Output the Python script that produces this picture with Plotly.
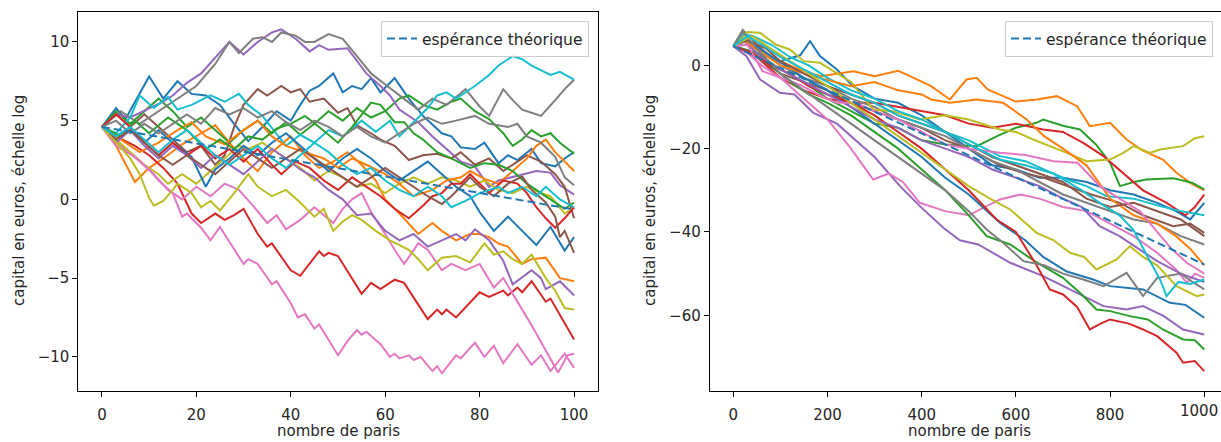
import plotly.graph_objects as go

# ---------------- DATA ----------------
# Left panel: 100 bets, (bet number, log capital) key points of each walk
g_bleu_1 = [(0,4.6),(3,5.8),(5,5.1),(10,7.8),(13,6.4),(16,7.5),(19,6.7),(22,6.6),(25,6.0),(28,4.8),(31,3.7),(34,4.6),(37,5.6),(40,5.0),(42,6.0),(44,6.9),(46,7.2),(49,8.0),(51,6.8),(53,7.2),(55,7.0),(57,7.7),(59,6.8),(62,7.7),(65,6.4),(68,5.3),(72,4.2),(74,4.0),(76,3.3),(79,3.2),(81,3.6),(84,2.3),(86,2.8),(88,2.5),(91,3.2),(93,2.3),(96,2.1),(98,2.6),(100,3.0)]
g_orange_1 = [(0,4.6),(3,3.4),(7,1.1),(10,2.0),(13,2.6),(17,3.5),(21,4.2),(24,4.7),(27,3.6),(30,2.6),(33,1.8),(36,3.0),(40,4.0),(43,2.8),(46,2.0),(49,2.4),(52,3.0),(55,2.2),(58,1.2),(60,0.0),(63,-0.9),(67,-2.2),(70,-1.5),(72,-2.0),(75,-2.6),(78,-2.2),(80,-2.2),(82,-2.4),(84,-2.8),(86,-3.0),(89,-4.1),(91,-3.8),(94,-3.7),(97,-5.0),(100,-5.2)]
g_vert_1 = [(0,4.6),(3,5.6),(6,4.8),(9,5.6),(12,6.4),(15,5.6),(18,4.6),(21,5.2),(24,4.4),(27,3.6),(30,4.4),(33,5.0),(36,4.2),(39,4.9),(42,4.1),(45,4.8),(48,5.6),(51,5.0),(54,5.8),(57,5.2),(60,5.6),(63,6.4),(65,6.6),(68,6.0),(71,5.7),(74,6.2),(76,6.4),(79,5.6),(82,5.1),(85,4.2),(87,3.4),(89,3.8),(91,4.4),(93,4.0),(95,4.2),(97,3.6),(100,2.9)]
g_rouge_1 = [(0,4.6),(3,4.0),(7,3.4),(10,2.8),(13,2.0),(16,1.0),(19,-0.9),(21,-1.5),(24,-0.9),(26,-1.3),(28,-1.0),(30,-0.6),(33,-2.2),(35,-3.0),(36,-2.8),(40,-4.5),(42,-4.85),(46,-3.3),(47,-3.6),(48,-3.4),(50,-3.6),(55,-6.0),(57,-5.3),(59,-5.7),(62,-5.1),(64,-5.3),(69,-7.6),(71,-7.0),(72,-7.3),(73,-7.0),(75,-7.5),(80,-5.9),(82,-6.2),(85,-5.8),(86,-6.1),(88,-5.6),(89,-5.9),(91,-5.2),(94,-6.5),(95,-6.3),(100,-8.9)]
g_violet_1 = [(0,4.6),(3,5.4),(6,5.2),(10,5.8),(13,6.2),(15,6.6),(18,7.4),(21,8.0),(24,9.0),(27,10.0),(30,9.2),(33,10.0),(36,10.6),(38,10.8),(41,10.2),(44,9.4),(46,9.8),(48,9.5),(52,9.6),(56,8.0),(59,7.2),(61,6.6),(63,5.7),(67,4.9),(70,4.0),(73,3.2),(76,2.4),(79,2.1),(82,0.8),(84,1.2),(88,1.5),(92,1.8),(95,1.7),(97,0.9),(100,0.3)]
g_brun_1 = [(0,4.6),(3,5.4),(6,4.6),(9,5.4),(12,4.6),(15,3.8),(18,3.0),(21,3.4),(24,2.2),(26,2.8),(28,4.6),(30,6.0),(33,7.0),(35,6.6),(38,7.2),(40,6.8),(42,7.0),(44,6.2),(47,6.4),(50,5.5),(52,5.8),(54,4.7),(57,4.2),(59,3.8),(62,3.4),(65,2.5),(68,2.8),(71,2.9),(74,2.6),(76,3.0),(79,2.2),(82,2.6),(85,1.8),(88,2.4),(90,2.8),(93,2.4),(96,1.6),(98,0.8),(100,-1.2)]
g_rose_1 = [(0,4.6),(4,3.4),(8,2.4),(11,1.6),(14,0.6),(17,0.0),(20,0.8),(23,0.2),(26,1.0),(29,0.6),(32,-0.4),(35,-1.5),(37,-1.0),(39,-1.9),(42,-1.3),(45,-0.5),(47,-1.0),(49,-1.5),(51,-0.6),(53,0.0),(55,0.4),(57,-0.8),(60,-2.2),(62,-3.2),(64,-4.1),(67,-2.8),(69,-3.2),(72,-4.5),(74,-4.1),(77,-4.5),(80,-4.1),(83,-5.6),(85,-5.0),(88,-6.5),(91,-8.0),(94,-9.6),(96.6,-11.0),(98.6,-9.9),(100,-9.8)]
g_gris_1 = [(0,4.6),(4,5.6),(8,4.8),(12,5.6),(16,6.4),(20,7.2),(24,8.6),(27,10.0),(29,9.3),(32,10.2),(34,10.3),(36,10.0),(38,10.6),(41,10.4),(43,10.0),(45,10.0),(48,10.5),(51,10.2),(54,9.1),(57,8.0),(60,7.3),(63,6.6),(67,5.7),(70,6.4),(73,6.0),(77,7.0),(80,5.9),(82,5.3),(85,7.0),(87,6.3),(89,5.7),(91,5.5),(93,5.3),(96,6.3),(98,7.0),(100,7.6)]
g_olive_1 = [(0,4.6),(3,3.8),(6,3.0),(9,2.2),(12,1.6),(14,1.0),(17,1.6),(20,1.0),(23,1.8),(26,2.6),(29,3.4),(31,3.2),(34,3.6),(36,3.2),(39,2.6),(42,2.0),(45,1.2),(48,1.8),(51,1.4),(54,0.8),(57,1.0),(60,0.4),(63,1.0),(66,1.4),(69,1.0),(72,1.4),(75,1.2),(78,0.8),(81,1.2),(84,0.6),(87,0.4),(90,0.8),(93,0.4),(95,0.2),(98,-0.9),(100,-0.5)]
g_cyan_1 = [(0,4.6),(3,4.2),(6,5.2),(8,6.6),(11,5.8),(14,6.5),(16,5.7),(19,6.0),(23,6.6),(26,6.2),(29,6.7),(31,6.0),(34,5.3),(37,4.2),(39,3.4),(42,4.1),(45,3.6),(48,4.4),(51,4.0),(55,5.0),(58,4.3),(61,5.0),(63,4.0),(66,4.9),(69,5.8),(71,6.6),(73,6.8),(75,6.4),(79,7.2),(82,7.9),(84,8.5),(87,9.1),(89,8.9),(91,8.5),(93,8.2),(95,7.9),(97,8.1),(100,7.6)]
g_bleu_2 = [(0,4.6),(3,4.0),(6,4.6),(9,3.6),(12,4.4),(15,3.6),(19,2.7),(22,0.8),(24,1.9),(27,2.6),(30,3.4),(33,2.8),(36,3.6),(39,4.2),(42,3.4),(45,2.6),(48,1.8),(51,2.6),(54,3.2),(57,2.6),(60,1.8),(63,1.2),(66,1.8),(69,2.4),(72,1.6),(75,0.8),(78,0.2),(80,-0.8),(83,-2.0),(86,-1.1),(89,-2.0),(92,-2.9),(95,-1.75),(98,-3.25),(100,-2.4)]
g_orange_2 = [(0,4.6),(4,3.8),(8,3.0),(12,3.6),(16,4.4),(19,4.9),(22,4.0),(26,3.5),(30,4.4),(33,5.0),(36,4.0),(39,3.4),(43,3.0),(47,2.6),(50,2.0),(53,2.6),(56,2.2),(60,1.6),(63,1.0),(66,0.2),(70,0.6),(73,1.2),(76,1.4),(78,1.8),(81,1.3),(84,1.0),(87,1.8),(90,2.6),(92,3.4),(94,3.8),(96,3.0),(98,2.4),(100,1.8)]
g_vert_2 = [(0,4.6),(4,4.0),(7,5.0),(10,4.2),(14,5.2),(18,4.4),(22,3.2),(25,3.8),(28,3.2),(31,4.0),(34,3.8),(37,4.5),(40,4.8),(43,5.3),(46,4.6),(50,3.6),(53,4.6),(57,6.15),(59,6.0),(62,4.9),(64,4.9),(66,4.2),(68,3.8),(71,3.0),(74,2.6),(78,2.0),(81,2.3),(84,2.2),(87,1.8),(90,1.0),(93,0.4),(96,-0.2),(98,-0.6),(100,-0.2)]
g_rouge_2 = [(0,4.6),(3,5.4),(6,4.6),(9,3.6),(12,2.8),(15,3.6),(18,2.8),(21,3.4),(24,2.6),(27,3.2),(30,2.4),(33,3.2),(36,2.2),(38,1.6),(41,2.4),(44,2.0),(47,1.2),(50,0.6),(53,1.4),(56,0.8),(59,0.2),(62,-0.6),(65,-1.2),(68,-0.4),(70,0.2),(72,0.4),(74,1.0),(76,1.0),(78,1.6),(80,1.0),(82,0.4),(85,1.2),(88,1.0),(90,0.4),(92,-0.5),(94,-1.2),(96,-1.8),(98,-1.2),(100,-0.5)]
g_violet_2 = [(0,4.6),(3,3.6),(6,4.4),(9,3.4),(12,2.6),(15,3.4),(18,2.8),(21,2.0),(24,2.8),(27,2.2),(30,1.6),(33,2.4),(36,3.2),(39,2.6),(42,1.9),(45,1.4),(48,0.6),(51,0.0),(54,-1.0),(57,-0.9),(60,-2.0),(63,-2.6),(66,-2.2),(69,-3.0),(72,-2.6),(75,-2.2),(77,-2.6),(79,-1.9),(82,-2.6),(85,-3.9),(87,-5.4),(91,-4.5),(93,-5.0),(94,-5.7),(97,-5.2),(100,-6.1)]
g_brun_2 = [(0,4.6),(3,3.8),(6,4.4),(9,3.6),(12,2.8),(15,2.2),(18,2.8),(21,2.2),(24,1.6),(27,2.4),(30,3.2),(33,2.6),(36,2.0),(39,2.6),(42,3.2),(45,2.6),(48,2.0),(51,1.4),(54,0.8),(57,1.4),(60,2.0),(63,1.4),(66,0.8),(69,0.2),(72,-0.3),(74,0.2),(76,0.8),(78,1.4),(80,0.8),(83,0.2),(86,1.0),(89,1.45),(91,0.6),(94,-0.2),(96,-1.1),(97,-2.4),(98,-2.0),(100,-3.4)]
g_rose_2 = [(0,4.6),(3,3.4),(7,2.7),(10,1.9),(12,1.2),(15,0.4),(17,-1.1),(18,-0.9),(21,-1.8),(23,-2.6),(25,-1.75),(28,-3.2),(30,-4.1),(31,-3.8),(33,-4.1),(36,-5.4),(37,-5.2),(40,-6.6),(41.5,-7.5),(43,-7.3),(45,-8.2),(46,-7.95),(48.5,-9.2),(50,-9.9),(52,-9.0),(54,-8.3),(55,-8.6),(56,-8.4),(59,-9.2),(61,-10.0),(62,-9.8),(63,-10.1),(65,-9.9),(66,-10.2),(67.5,-10.0),(70,-10.9),(71,-10.6),(72,-11.05),(75,-9.9),(76,-10.1),(79,-9.1),(81,-10.0),(83,-9.3),(85,-10.4),(88,-9.2),(91,-10.5),(93,-9.9),(95,-10.9),(98,-9.8),(100,-10.7)]
g_gris_2 = [(0,4.6),(3,5.0),(6,4.2),(9,4.8),(12,4.2),(15,4.8),(18,5.4),(21,4.8),(24,5.8),(27,5.4),(30,5.8),(33,5.2),(36,5.6),(39,4.9),(42,4.4),(45,5.0),(48,4.6),(51,4.0),(54,4.6),(57,4.0),(60,3.6),(63,4.2),(66,4.8),(69,5.2),(72,4.8),(75,5.0),(79,5.3),(82,4.8),(86,4.6),(88,4.8),(90,4.0),(93,3.6),(96,2.7),(98,1.4),(100,0.9)]
g_olive_2 = [(0,4.6),(3,3.6),(6,2.6),(8,1.6),(10,0.1),(11,-0.4),(13,-0.1),(15,0.6),(16,1.0),(19,0.4),(21,-0.5),(23,-0.1),(25,-0.7),(28,0.4),(31,1.6),(33,0.8),(36,0.2),(39,0.6),(42,-0.2),(45,-1.1),(47,-0.6),(49,-2.0),(51,-1.4),(53,-1.0),(55,-1.3),(58,-2.0),(61,-2.6),(63,-2.9),(65,-3.2),(67,-3.8),(69,-4.5),(72,-3.7),(75,-3.6),(78,-4.0),(81,-2.8),(83,-3.5),(85,-3.3),(87,-3.8),(89,-4.1),(91,-3.5),(94,-5.0),(96,-5.8),(98,-6.9),(100,-7.0)]
g_cyan_2 = [(0,4.6),(3,4.0),(6,4.6),(9,3.8),(12,3.0),(15,3.8),(18,4.4),(21,3.6),(24,2.8),(27,2.2),(30,2.8),(33,3.4),(36,2.6),(39,2.0),(42,2.8),(45,3.6),(48,3.0),(51,2.2),(54,1.6),(57,2.0),(60,1.2),(63,0.6),(66,0.2),(69,0.8),(72,0.2),(74,-0.5),(77,-0.1),(80,0.4),(84,0.8),(86,0.4),(89,0.8),(92,0.2),(94,0.8),(97,0.0),(100,-0.5)]
g_esperance = [(0,4.605),(100,-0.64)]

# Right panel: 1000 bets
d_bleu_1 = [(0,4.6),(50,3),(100,1),(142,2.4),(163,5.8),(184,2.2),(220,-1),(254,-5),(300,-8),(350,-9),(400,-12),(450,-16),(500,-20),(550,-24),(600,-25),(650,-27),(700,-27),(750,-28),(800,-30),(850,-31),(900,-33),(940,-35),(970,-37),(1000,-33)]
d_orange_1 = [(0,4.6),(15,7),(50,4),(100,1),(140,-1),(185,-2.6),(220,-2),(255,-1.4),(300,-2.6),(350,-1.3),(375,-2.6),(400,-4),(420,-5),(460,-8.2),(495,-3.4),(517,-3.0),(540,-5.8),(573,-7.4),(600,-8.7),(645,-8.2),(687,-7.4),(730,-9.8),(757,-14.6),(800,-13.8),(835,-17.8),(870,-20.5),(912,-22.6),(941,-25.8),(970,-28.2),(1000,-30)]
d_vert_1 = [(0,4.6),(50,3),(100,-1),(150,-4),(200,-8),(250,-11),(300,-14),(350,-15),(400,-18),(450,-19),(517,-19.4),(560,-17),(600,-15),(644,-13.8),(658,-13),(700,-14.5),(736,-15.4),(770,-19),(800,-23.4),(821,-29),(850,-28),(877,-27.4),(934,-27.1),(974,-28.2),(1000,-29.8)]
d_rouge_1 = [(0,4.6),(50,2),(100,-3),(150,-6),(200,-8),(250,-9),(300,-9),(350,-10),(400,-11),(450,-12),(500,-14),(550,-15),(600,-14),(658,-15.4),(700,-16),(743,-18.6),(786,-21.8),(830,-26),(870,-30),(920,-33),(960,-36),(980,-34),(1000,-31)]
d_violet_1 = [(0,4.6),(28,2.2),(57,-3.4),(99,-6.6),(130,-7),(170,-11.4),(220,-14),(260,-18),(300,-22),(354,-29),(396,-33.8),(446,-39),(481,-42),(520,-43),(588,-47.4),(658,-50.6),(700,-53),(743,-55.4),(786,-57.8),(835,-58.6),(870,-57.8),(914,-60.2),(955,-63.4),(1000,-64.6)]
d_brun_1 = [(0,4.6),(50,2),(100,-2),(150,-4),(200,-6),(250,-9),(300,-11),(350,-13),(400,-15),(450,-18),(500,-20),(566,-24),(620,-26),(660,-27),(708,-29),(760,-31),(821,-33),(870,-36),(934,-38.6),(970,-38),(1000,-40.2)]
d_rose_1 = [(0,4.6),(30,3),(60,0),(100,-3),(150,-8),(200,-13),(250,-20),(297,-27.4),(330,-26),(360,-28),(396,-33),(450,-35),(500,-36),(566,-32.2),(610,-31),(650,-32),(700,-34),(750,-35),(800,-38),(850,-41),(900,-45),(940,-49),(963,-52.2),(980,-50),(1000,-51)]
d_gris_1 = [(0,4.6),(20,8.5),(50,5),(100,0),(150,-3),(200,-5),(250,-8),(300,-10),(350,-13),(400,-15),(450,-17),(500,-20),(550,-23),(600,-25),(650,-28),(700,-31),(750,-33),(800,-35),(850,-37),(900,-38),(950,-41),(1000,-43)]
d_olive_1 = [(0,4.6),(30,8),(57,7.8),(90,5),(120,3.8),(150,1),(184,0.6),(220,-2),(250,-4),(297,-10.6),(340,-11),(396,-13),(450,-12),(500,-13),(566,-15.4),(600,-16),(637,-17.8),(708,-21),(750,-23),(800,-22.6),(828,-21),(850,-19.4),(885,-21),(906,-20.2),(955,-19.4),(980,-17.5),(1000,-17)]
d_cyan_1 = [(0,4.6),(20,7.5),(42,7),(80,5),(120,2),(160,0),(200,-3),(250,-6),(300,-8),(350,-11),(400,-13),(450,-16),(500,-18),(566,-21.8),(620,-23),(660,-25),(708,-27.4),(750,-29),(792,-31.4),(850,-32),(906,-33.8),(950,-35),(1000,-36)]
d_bleu_2 = [(0,4.6),(30,6),(70,3),(110,0),(150,-3),(200,-6),(250,-10),(300,-14),(350,-18),(400,-22),(450,-27),(500,-31),(566,-37.8),(620,-42),(658,-46),(708,-49.5),(764,-51.4),(800,-53),(870,-53.8),(927,-57),(960,-57.5),(1000,-60.6)]
d_orange_2 = [(0,4.6),(20,6),(60,3),(100,0),(150,-2),(200,-3.5),(250,-5),(300,-4),(350,-6),(400,-7),(420,-8.2),(460,-9),(517,-8.2),(573,-9),(623,-13),(660,-17),(700,-20),(750,-24),(800,-32),(850,-36),(900,-38),(940,-41),(970,-44),(1000,-48)]
d_vert_2 = [(0,4.6),(40,3),(80,0),(120,-4),(160,-7),(200,-9),(250,-12),(300,-16),(350,-20),(400,-25),(450,-30),(500,-36),(538,-41),(588,-43),(640,-47),(700,-51),(740,-55),(771,-58.6),(800,-59),(842,-60.2),(880,-61),(912,-63.4),(955,-65.8),(980,-66),(1000,-68.2)]
d_rouge_2 = [(0,4.6),(40,3),(80,0),(120,-2),(160,-5),(200,-7),(250,-9),(300,-12),(350,-16),(400,-20),(450,-25),(500,-30),(559,-37),(600,-40),(644,-48),(672,-53.8),(700,-55),(730,-58),(757,-63.4),(780,-62),(800,-61),(840,-62),(870,-63.4),(900,-65),(941,-69),(955,-71.4),(980,-71),(1000,-73.4)]
d_violet_2 = [(0,4.6),(30,5),(60,2),(100,-1),(150,-4),(200,-7),(250,-10),(300,-13),(350,-15),(400,-18),(450,-20),(500,-22),(550,-25),(600,-27),(650,-29),(700,-32),(740,-34),(778,-38.6),(820,-41),(860,-44),(900,-47),(950,-50),(1000,-52)]
d_brun_2 = [(0,4.6),(30,6),(70,4),(100,1),(150,-2),(200,-5),(250,-7),(300,-9),(350,-12),(400,-14),(450,-16),(500,-19),(550,-22),(600,-24),(650,-26),(700,-28),(750,-32),(800,-34),(850,-33),(900,-35),(950,-37),(1000,-41)]
d_rose_2 = [(0,4.6),(30,5),(62,-1.4),(100,-3),(142,-4.7),(180,-7),(220,-9),(260,-9),(300,-11),(350,-13),(400,-16),(450,-19),(500,-20),(566,-21),(620,-21.5),(680,-23),(731,-23.4),(778,-29),(820,-32),(863,-35),(900,-40),(930,-44),(963,-47.4),(1000,-50)]
d_gris_2 = [(0,4.6),(20,8),(50,4),(100,-2),(150,-6),(200,-10),(250,-14),(300,-18),(350,-22),(400,-26),(450,-30),(500,-35),(538,-39.4),(573,-42.6),(616,-47),(660,-48),(700,-50),(743,-51.4),(786,-53),(835,-49.8),(870,-55.4),(900,-51),(950,-50),(975,-52),(1000,-53.8)]
d_olive_2 = [(0,4.6),(40,7),(80,4),(120,1),(160,-2),(200,-5),(250,-9),(300,-13),(350,-17),(400,-21),(450,-25),(500,-29),(545,-32),(588,-34.6),(644,-40.2),(680,-42),(715,-45),(745,-46),(771,-49),(790,-48),(814,-46.6),(842,-43.4),(870,-46),(900,-48),(941,-53),(984,-55.4),(1000,-55)]
d_cyan_2 = [(0,4.6),(30,7),(60,5),(100,2),(150,-1),(200,-4),(250,-7),(300,-9),(350,-12),(400,-14),(450,-16),(500,-19),(566,-22.6),(620,-24),(680,-26),(740,-30),(778,-33),(820,-36),(849,-39.4),(880,-46),(906,-51.4),(920,-55.4),(945,-52),(970,-52.5),(1000,-51.4)]
d_esperance = [(0,4.605),(1000,-47.8)]

series_gauche = [g_bleu_1, g_orange_1, g_vert_1, g_rouge_1, g_violet_1, g_brun_1, g_rose_1, g_gris_1, g_olive_1, g_cyan_1,
                 g_bleu_2, g_orange_2, g_vert_2, g_rouge_2, g_violet_2, g_brun_2, g_rose_2, g_gris_2, g_olive_2, g_cyan_2]
series_droite = [d_bleu_1, d_orange_1, d_vert_1, d_rouge_1, d_violet_1, d_brun_1, d_rose_1, d_gris_1, d_olive_1, d_cyan_1,
                 d_bleu_2, d_orange_2, d_vert_2, d_rouge_2, d_violet_2, d_brun_2, d_rose_2, d_gris_2, d_olive_2, d_cyan_2]

legende = "espérance théorique"
titre_y = "capital en euros, échelle log"
titre_x = "nombre de paris"
ticks_x_gauche = [0, 20, 40, 60, 80, 100]
ticks_y_gauche = [-10, -5, 0, 5, 10]
ticks_x_droite = [0, 200, 400, 600, 800, 1000]
ticks_y_droite = [-60, -40, -20, 0]

# ---------------- STYLE ----------------
W, H = 1221, 442
TAB10 = ['#1f77b4', '#ff7f0e', '#2ca02c', '#d62728', '#9467bd',
         '#8c564b', '#e377c2', '#7f7f7f', '#bcbd22', '#17becf']
FONT = "DejaVu Sans"
FS = 15
TXT = '#262626'

fig = go.Figure()

def add_walks(series, xa, ya):
    for i, s in enumerate(series):
        n, v = zip(*s)
        fig.add_trace(go.Scatter(x=list(n), y=list(v), mode='lines',
                                 line=dict(color=TAB10[i % 10], width=2),
                                 xaxis=xa, yaxis=ya, showlegend=False, hoverinfo='skip'))

add_walks(series_gauche, 'x', 'y')
n, v = zip(*g_esperance)
fig.add_trace(go.Scatter(x=list(n), y=list(v), mode='lines', name=legende,
                         line=dict(color=TAB10[0], width=2, dash='8px,4px'),
                         xaxis='x', yaxis='y', legend='legend'))
add_walks(series_droite, 'x2', 'y2')
n, v = zip(*d_esperance)
fig.add_trace(go.Scatter(x=list(n), y=list(v), mode='lines', name=legende,
                         line=dict(color=TAB10[0], width=2, dash='8px,4px'),
                         xaxis='x2', yaxis='y2', legend='legend2'))

ydom = [(H - 390.7) / H, (H - 12) / H]
axis_common = dict(showgrid=False, zeroline=False, showline=True, linecolor='#000000', linewidth=1,
                   ticks='outside', ticklen=5, tickwidth=1, tickcolor='#000000',
                   tickfont=dict(family=FONT, size=FS, color=TXT))

tick_lbl_y = (H - 410.5) / H
fig.update_layout(
    width=W, height=H, margin=dict(l=0, r=0, t=0, b=0),
    paper_bgcolor='white', plot_bgcolor='white',
    font=dict(family=FONT, size=FS, color=TXT),
    xaxis=dict(domain=[78.3 / W, 597.7 / W], range=[-5, 105], anchor='y', mirror=True,
               tickvals=ticks_x_gauche, ticklabelstandoff=5, **axis_common),
    yaxis=dict(domain=ydom, range=[-12.15, 11.9], anchor='x', mirror=True,
               tickvals=ticks_y_gauche, **axis_common),
    xaxis2=dict(domain=[709.75 / W, 1.0], range=[-50, 1035.5], anchor='y2', mirror=True,
                tickvals=ticks_x_droite, ticktext=[str(t) for t in ticks_x_droite[:-1]] + [''],
                ticklabelstandoff=5, **axis_common),
    yaxis2=dict(domain=ydom, range=[-78.1, 12.8], anchor='x2', mirror=False,
                tickvals=ticks_y_droite, **axis_common),
    legend=dict(x=589 / W, xanchor='right', y=(H - 21) / H, yanchor='top',
                bgcolor='rgba(255,255,255,0.8)', bordercolor='#cccccc', borderwidth=1,
                font=dict(family=FONT, size=15.5, color=TXT), itemwidth=30),
    legend2=dict(x=1005 / W, xanchor='left', y=(H - 21) / H, yanchor='top',
                 bgcolor='rgba(255,255,255,0.8)', bordercolor='#cccccc', borderwidth=1,
                 font=dict(family=FONT, size=15.5, color=TXT), itemwidth=30),
    annotations=[
        dict(text=titre_y, x=19 / W, y=(H - 201) / H, xref='paper', yref='paper', textangle=-90,
             showarrow=False, xanchor='center', yanchor='middle', font=dict(family=FONT, size=FS, color=TXT)),
        dict(text=titre_y, x=650 / W, y=(H - 201) / H, xref='paper', yref='paper', textangle=-90,
             showarrow=False, xanchor='center', yanchor='middle', font=dict(family=FONT, size=FS, color=TXT)),
        dict(text=titre_x, x=338 / W, y=0, xref='paper', yref='paper',
             showarrow=False, xanchor='center', yanchor='bottom', font=dict(family=FONT, size=FS, color=TXT)),
        dict(text=titre_x, x=969 / W, y=0, xref='paper', yref='paper',
             showarrow=False, xanchor='center', yanchor='bottom', font=dict(family=FONT, size=FS, color=TXT)),
        dict(text=str(ticks_x_droite[-1]), x=1220 / W, xref='paper', y=tick_lbl_y, yref='paper',
             showarrow=False, xanchor='right', yanchor='middle', font=dict(family=FONT, size=FS, color=TXT)),
    ],
)

fig.write_html("out.html")
